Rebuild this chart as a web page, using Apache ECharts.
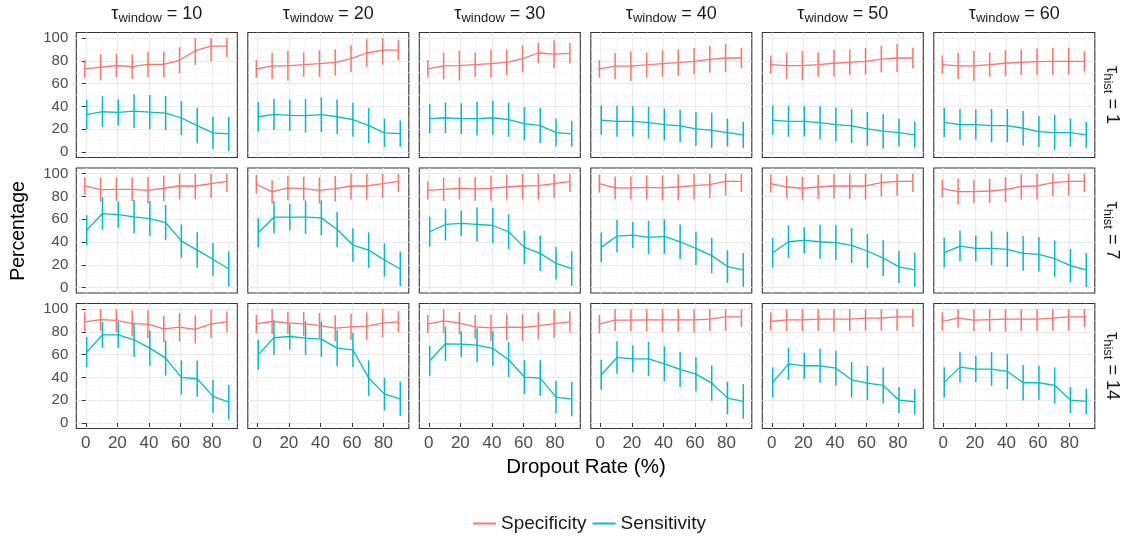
<!DOCTYPE html>
<html><head><meta charset="utf-8">
<script src="https://cdn.jsdelivr.net/npm/echarts@6/dist/echarts.min.js"></script>
<style>html,body{margin:0;padding:0;background:#fff}#c{width:1127px;height:539px}</style>
</head><body><div id="c"></div>
<script>
// ---------------- data ----------------
const rates = [0, 10, 20, 30, 40, 50, 60, 70, 80, 90];
const windows = [10, 20, 30, 40, 50, 60];
const hists = [1, 7, 14];
const xTicks = [0, 20, 40, 60, 80];
const xMinor = [10, 30, 50, 70, 90];
const yTicks = [0, 20, 40, 60, 80, 100];
const yMinor = [10, 30, 50, 70, 90];

// Specificity means, tau_hist = 1 (one row per tau_window)
const specMean_h1 = [
  [73, 74.5, 76, 75, 77, 77, 80.6, 89, 93, 93],
  [73, 75.7, 75.7, 76.8, 77.7, 78.8, 82, 87, 89.6, 89.6],
  [73, 75.7, 75.9, 76.8, 77.7, 78.8, 82, 87, 86, 86.7],
  [73, 75.4, 75.4, 76.5, 77.7, 78.6, 79.7, 81.4, 82.6, 82.6],
  [76.8, 75.9, 75.9, 76.8, 78, 78.8, 79.7, 81.7, 82.6, 82.6],
  [76.8, 75.7, 75.7, 76.8, 78, 78.8, 79.4, 79.7, 79.7, 79.7]
];
const specErr_h1 = [
  [7.7, 11.6, 10.2, 10.7, 11.2, 11.2, 11.5, 12.5, 13.1, 9.6],
  [7.8, 11.6, 13, 10.6, 11.6, 11.5, 11.8, 12, 12.8, 9],
  [7.8, 11.6, 13, 10.6, 11.9, 11.3, 11.6, 9, 12.3, 9],
  [7.8, 11.5, 13, 10.9, 11.6, 11.5, 11.6, 11.7, 12.2, 9],
  [8, 11.6, 13, 10.6, 11.6, 11.2, 11.6, 11.7, 12.3, 9],
  [8, 11.5, 13, 10.6, 11.6, 11.2, 11.6, 12, 12, 9]
];
const sensMean_h1 = [
  [32.8, 35.4, 34.8, 35.9, 35, 34.2, 29.9, 23.2, 16.8, 15.9],
  [31, 33, 32.2, 31.9, 32.8, 31, 28.4, 23.2, 16.8, 16.2],
  [29.3, 30.1, 29.3, 29.3, 30.1, 28.4, 24.9, 23.2, 17.1, 15.9],
  [28.1, 27, 27, 25.8, 24.1, 22.9, 20.3, 19.1, 17.1, 15.1],
  [28.1, 27, 27, 25.8, 24.1, 22.9, 20.3, 18.3, 17.1, 15.1],
  [26.1, 24.1, 24.1, 23.2, 23.2, 20.9, 18, 17.1, 17.1, 15.1]
];
const sensErr_h1 = [
  [13, 13.6, 11.5, 14.8, 15, 15, 15, 15.5, 14.2, 15],
  [13, 13.6, 13.7, 14.8, 15.2, 15.2, 15, 15.5, 12.5, 11.6],
  [12.9, 13.5, 13.5, 14.8, 15, 15, 14.6, 15.5, 12.2, 11.3],
  [13, 13.6, 13.3, 13.9, 14, 14.3, 14.8, 15.4, 12.2, 11.4],
  [13, 13.6, 13.3, 14.5, 14.8, 14.9, 14.9, 15.2, 12.2, 11.4],
  [12.9, 13.6, 13.3, 14.6, 14.6, 15.2, 13.6, 15.5, 12.3, 11.3]
];

// tau_hist = 7
const specMean_h7 = [
  [89.2, 86, 86.3, 86.3, 85.4, 87.2, 89.2, 89.2, 91.3, 93.3],
  [90.7, 84, 87.5, 86.9, 85.4, 86.9, 89.2, 89.2, 91.3, 93.3],
  [85.4, 86.3, 87.2, 86.6, 87.2, 88.3, 89.2, 89.5, 91.3, 93.3],
  [91.3, 87.5, 87.5, 88, 87.5, 88.3, 89.5, 90.4, 93.3, 93.3],
  [91.3, 88.3, 87.2, 88.3, 89.2, 89.2, 89.2, 92.1, 93.3, 93.3],
  [86.9, 84.3, 84.3, 84.8, 86, 88.9, 89.2, 92.1, 93.3, 93.3]
];
const specErr_h7 = [
  [7.6, 10.5, 10.2, 10.2, 11.6, 11.1, 11.9, 11.6, 12.6, 9.3],
  [8.2, 10.3, 10.8, 10.4, 11.4, 11.3, 11.9, 11.9, 12.6, 9.3],
  [8, 10.2, 9.8, 10.4, 11, 11, 11.9, 12, 12.6, 9.3],
  [7.9, 10, 10, 10.5, 11, 11.3, 11.9, 12, 12.6, 9.3],
  [7.9, 9.9, 10, 10.5, 11, 11.3, 11.9, 12, 12.6, 9.3],
  [8, 11.4, 10.2, 10.6, 11, 11.5, 11.9, 12, 12.6, 9.3]
];
const sensMean_h7 = [
  [50.4, 65, 64.1, 62.1, 60.6, 57.1, 40.8, 32.9, 24.8, 16.3],
  [48.1, 61.8, 61.8, 61.8, 61.2, 51, 37.3, 32.9, 24.2, 16.3],
  [49, 55.4, 56.3, 55.4, 54.5, 49, 35.3, 30, 21.3, 16.6],
  [35.3, 45.2, 46.1, 44, 44.9, 40.2, 34.4, 28, 18.4, 15.5],
  [30.6, 40.2, 41.4, 40.2, 39.4, 37, 32.1, 25.9, 18.1, 15.5],
  [30.6, 36.4, 34.4, 34.4, 33.5, 30, 29.2, 25.4, 19.2, 15.5]
];
const sensErr_h7 = [
  [13.1, 14.3, 11.5, 14.7, 15.4, 15.5, 14.7, 15.6, 14.4, 15.3],
  [12.8, 14.3, 11.5, 14.7, 15.3, 15.3, 14.7, 15.6, 14.6, 15.3],
  [13.1, 14.1, 11.4, 14.9, 15.3, 15.3, 14.7, 15.5, 14.3, 15.2],
  [13.1, 14.3, 11.4, 14.6, 15.3, 15.2, 14.7, 15.6, 14.3, 14.9],
  [13.1, 14.3, 11.5, 14.9, 15.3, 15.3, 14.9, 15.7, 14.3, 15],
  [13.1, 13.4, 11.4, 14.9, 15.5, 15.3, 15.2, 15.9, 14.6, 15]
];

// tau_hist = 14
const specMean_h14 = [
  [88.9, 90.9, 90.1, 87.4, 86.8, 82.7, 84.2, 82.2, 87.1, 88.9],
  [87.1, 89.2, 88, 87.1, 85.7, 83.3, 84.5, 85.1, 87.7, 88.9],
  [86.8, 89.8, 87.7, 84.5, 83.6, 84.2, 83.9, 85.4, 87.4, 88.9],
  [86.8, 90.4, 90.4, 90.6, 90.6, 90.6, 90.6, 91.2, 93.3, 93.3],
  [89.2, 90.6, 90.6, 91.2, 91.2, 91.2, 92.1, 92.1, 93.3, 93.3],
  [89.2, 92.1, 90.4, 90.9, 91.2, 91.2, 91.2, 92.1, 93.3, 93.3]
];
const specErr_h14 = [
  [8.5, 9.9, 10.3, 11.4, 12.2, 11.7, 12.6, 12.3, 12.5, 9.1],
  [8, 11, 9.8, 10.5, 11, 11.4, 11.5, 12, 12.4, 9.3],
  [8, 11, 9.7, 10.5, 11.4, 11.5, 11.7, 11.8, 12.4, 9.4],
  [8, 9.8, 9.8, 10.3, 10.9, 10.3, 11.2, 10.3, 12.3, 8.9],
  [8, 9.8, 9.8, 10.3, 11, 10.3, 11, 11, 12.3, 9],
  [8, 8.5, 9.8, 10.3, 11, 10.3, 10.3, 11, 12.3, 9]
];
const sensMean_h14 = [
  [62.3, 77.5, 77.5, 73.1, 65.8, 57, 40.1, 38.9, 23.4, 18.4],
  [59.9, 75.1, 76, 74.6, 73.7, 65.8, 64.3, 39.5, 25.4, 21.3],
  [54.7, 69.6, 69.3, 68.4, 65.5, 55.6, 40.4, 39.5, 22.8, 21],
  [42.4, 57.6, 56.4, 56.4, 52, 47.1, 43, 35.1, 21.9, 19],
  [35.7, 52, 50.3, 50.3, 48.2, 38, 35.1, 33, 20.2, 18.7],
  [35.7, 49.1, 47.4, 47.4, 45.3, 35.4, 35.4, 33, 20.2, 19]
];
const sensErr_h14 = [
  [13.2, 11.4, 11.4, 14.9, 15.4, 15.4, 15, 15.8, 14.3, 15],
  [13.2, 15.2, 11.3, 14.9, 15.4, 15.6, 15, 15.6, 14.3, 15],
  [13.2, 15, 11.3, 14.9, 15.4, 15.4, 15, 15.6, 14.3, 15],
  [13.2, 14.3, 11.7, 15, 15.4, 15.5, 15, 15.5, 14.3, 15.2],
  [13.2, 14.2, 11.4, 14.9, 15.2, 15.5, 15, 15.8, 11.4, 11.3],
  [13.2, 13.6, 11.4, 14.9, 15.4, 15.5, 15, 15.8, 11.4, 11.3]
];

const specMean = [specMean_h1, specMean_h7, specMean_h14];
const specErr = [specErr_h1, specErr_h7, specErr_h14];
const sensMean = [sensMean_h1, sensMean_h7, sensMean_h14];
const sensErr = [sensErr_h1, sensErr_h7, sensErr_h14];

// ---------------- layout / style ----------------
const FONT = '"Liberation Sans", Arial, Helvetica, sans-serif';
const RED = '#F8766D', CYAN = '#00BFC4';
const L0 = 76.3, DX = 171.5, W = 161, T0 = 32.5, DY = 135.5, H = 125;
const XMIN = -6, XMAX = 96, YMIN = -4.8, YMAX = 105;
const DODGE = 0.6;

const grids = [], xAxes = [], yAxes = [], series = [], graphics = [];

function errRender(color) {
  return function (params, api) {
    const p1 = api.coord([api.value(0), api.value(1)]);
    const p2 = api.coord([api.value(0), api.value(2)]);
    return { type: 'line', shape: { x1: p1[0], y1: p1[1], x2: p2[0], y2: p2[1] },
             style: { stroke: color, lineWidth: 1.5 } };
  };
}

for (let r = 0; r < hists.length; r++) {
  for (let c = 0; c < windows.length; c++) {
    const gi = r * windows.length + c;
    grids.push({ left: L0 + c * DX, top: T0 + r * DY, width: W, height: H,
      show: true, backgroundColor: '#fff', borderColor: '#333', borderWidth: 1.1 });
    const bottomRow = r === hists.length - 1, firstCol = c === 0;
    // major x
    xAxes.push({ type: 'value', gridIndex: gi, min: XMIN, max: XMAX, position: 'bottom',
      axisLine: { show: false },
      axisTick: { show: bottomRow, length: 4, lineStyle: { color: '#333', width: 1 }, customValues: xTicks },
      axisLabel: { show: bottomRow, customValues: xTicks, color: '#4D4D4D', fontSize: 17, margin: 6, fontFamily: FONT },
      splitLine: { show: true, lineStyle: { color: '#EBEBEB', width: 1.2 } } });
    // minor x
    xAxes.push({ type: 'value', gridIndex: gi, min: XMIN, max: XMAX, position: 'top',
      axisLine: { show: false },
      axisTick: { show: false, customValues: xMinor },
      axisLabel: { show: false, customValues: xMinor },
      splitLine: { show: true, lineStyle: { color: '#F5F5F5', width: 0.7 } } });
    yAxes.push({ type: 'value', gridIndex: gi, min: YMIN, max: YMAX, position: 'left',
      axisLine: { show: false },
      axisTick: { show: firstCol, length: 4, lineStyle: { color: '#333', width: 1 }, customValues: yTicks },
      axisLabel: { show: firstCol, customValues: yTicks, color: '#4D4D4D', fontSize: 15, margin: 8, fontFamily: FONT },
      splitLine: { show: true, lineStyle: { color: '#EBEBEB', width: 1.2 } } });
    yAxes.push({ type: 'value', gridIndex: gi, min: YMIN, max: YMAX, position: 'right',
      axisLine: { show: false },
      axisTick: { show: false, customValues: yMinor },
      axisLabel: { show: false, customValues: yMinor },
      splitLine: { show: true, lineStyle: { color: '#F5F5F5', width: 0.7 } } });

    const xi = 2 * gi, yi = 2 * gi;
    const sm = specMean[r][c], se = specErr[r][c], nm = sensMean[r][c], ne = sensErr[r][c];
    series.push({ type: 'line', name: 'Specificity', xAxisIndex: xi, yAxisIndex: yi,
      data: rates.map((x, i) => [x - DODGE, sm[i]]), symbol: 'none',
      lineStyle: { color: RED, width: 1.3 }, itemStyle: { color: RED }, silent: true, z: 3 });
    series.push({ type: 'line', name: 'Sensitivity', xAxisIndex: xi, yAxisIndex: yi,
      data: rates.map((x, i) => [x + DODGE, nm[i]]), symbol: 'none',
      lineStyle: { color: CYAN, width: 1.3 }, itemStyle: { color: CYAN }, silent: true, z: 3 });
    series.push({ type: 'custom', name: 'Specificity', xAxisIndex: xi, yAxisIndex: yi,
      data: rates.map((x, i) => [x - DODGE, sm[i] - se[i], Math.min(100, sm[i] + se[i])]),
      encode: { x: 0, y: [1, 2] }, renderItem: errRender(RED), itemStyle: { color: RED }, silent: true, z: 3 });
    series.push({ type: 'custom', name: 'Sensitivity', xAxisIndex: xi, yAxisIndex: yi,
      data: rates.map((x, i) => [x + DODGE, nm[i] - ne[i], Math.min(100, nm[i] + ne[i])]),
      encode: { x: 0, y: [1, 2] }, renderItem: errRender(CYAN), itemStyle: { color: CYAN }, silent: true, z: 3 });
  }
}

const rich = {
  t: { fontSize: 18, fontFamily: FONT, fill: '#1A1A1A', lineHeight: 22 },
  s: { fontSize: 13, fontFamily: FONT, fill: '#1A1A1A', lineHeight: 12, verticalAlign: 'bottom' }
};
windows.forEach((w, c) => {
  graphics.push({ type: 'text', x: L0 + c * DX + W / 2, y: 14, silent: true,
    style: { text: '{t|τ}{s|window}{t| = ' + w + '}', rich: rich, align: 'center', verticalAlign: 'middle' } });
});
hists.forEach((h, r) => {
  graphics.push({ type: 'text', x: 1112, y: T0 + r * DY + H / 2, rotation: -Math.PI / 2, silent: true,
    style: { text: '{t|τ}{s|hist}{t| = ' + h + '}', rich: rich, align: 'center', verticalAlign: 'middle' } });
});
graphics.push({ type: 'text', x: 19, y: 231, rotation: Math.PI / 2, silent: true,
  style: { text: 'Percentage', font: '19.5px ' + FONT, fill: '#000', align: 'center', verticalAlign: 'middle' } });
graphics.push({ type: 'text', x: 586, y: 467, silent: true,
  style: { text: 'Dropout Rate (%)', font: '20.5px ' + FONT, fill: '#000', align: 'center', verticalAlign: 'middle' } });

const chart = echarts.init(document.getElementById('c'), null, { renderer: 'canvas' });
chart.setOption({
  animation: false,
  backgroundColor: '#fff',
  grid: grids, xAxis: xAxes, yAxis: yAxes, series: series,
  legend: { data: ['Specificity', 'Sensitivity'], left: 473, top: 514, padding: 0, icon: 'rect',
    itemWidth: 23, itemHeight: 2, itemGap: 6,
    textStyle: { fontSize: 19, color: '#1A1A1A', fontFamily: FONT } },
  graphic: graphics
});
</script></body></html>
